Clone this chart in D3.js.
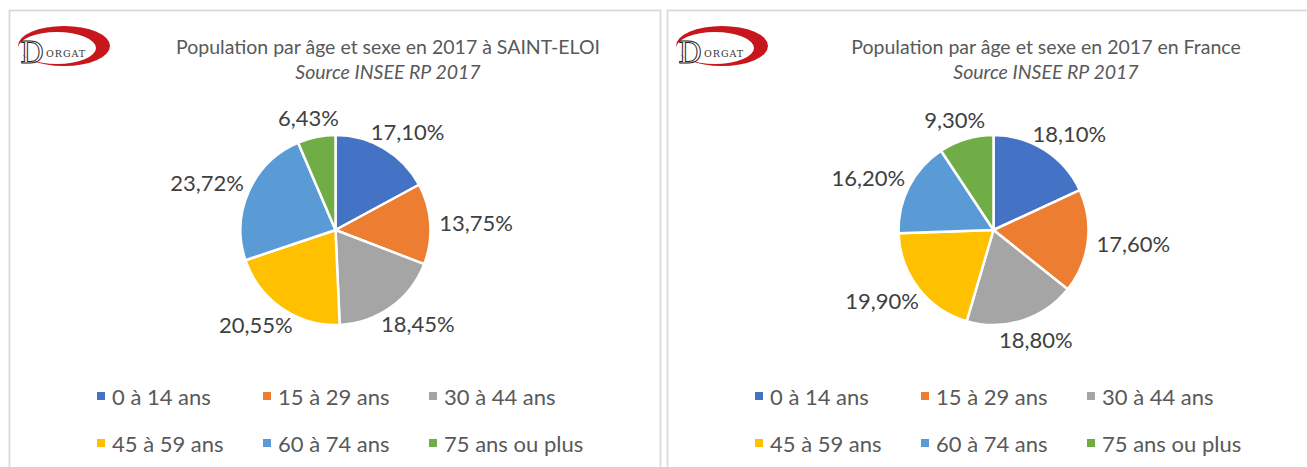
<!DOCTYPE html>
<html>
<head>
<meta charset="utf-8">
<script src="https://cdn.jsdelivr.net/npm/d3@7"></script>
<style>
  body { margin: 0; background: #fff; }
  text { font-family: Lato, "Open Sans", sans-serif; }
</style>
</head>
<body>
<div id="wrapper"></div>
<script>
// Données
const ageGroups = ["0 à 14 ans", "15 à 29 ans", "30 à 44 ans", "45 à 59 ans", "60 à 74 ans", "75 ans ou plus"];
const saintEloi = [17.10, 13.75, 18.45, 20.55, 23.72, 6.43];
const france = [18.10, 17.60, 18.80, 19.90, 16.20, 9.30];
const titles = ["Population par âge et sexe en 2017 à SAINT-ELOI", "Population par âge et sexe en 2017 en France"];
const subtitle = "Source INSEE RP 2017";
const colors = ["#4472C4", "#ED7D31", "#A5A5A5", "#FFC000", "#5B9BD5", "#70AD47"];

const dimensions = {
  width: 1307,
  height: 467,
  panelWidth: 651,
  panelTop: 10,
  radius: 95,
  pieCy: 230
};

const svg = d3.select("#wrapper")
  .append("svg")
    .attr("width", dimensions.width)
    .attr("height", dimensions.height);

const color = d3.scaleOrdinal().domain(ageGroups).range(colors);
const fmt = v => d3.format(".2f")(v).replace(".", ",") + "%";

const drawPanel = (x0, title, values) => {
  const g = svg.append("g").attr("transform", "translate(" + x0 + "," + dimensions.panelTop + ")");

  // cadre
  g.append("rect")
    .attr("x", 0.5).attr("y", 0.5)
    .attr("width", dimensions.panelWidth).attr("height", 500)
    .attr("fill", "#fff")
    .attr("stroke", "#d9d9d9")
    .attr("stroke-width", 1.8);

  // logo
  const logo = g.append("g");
  logo.append("path")
    .attr("d", "M9,36 a46,20 0 1,0 92,0 a46,20 0 1,0 -92,0 Z M9,38 a39,16 0 1,0 78,0 a39,16 0 1,0 -78,0 Z")
    .attr("fill-rule", "evenodd")
    .attr("fill", "#c8161d");
  logo.append("rect").attr("x", 2).attr("y", 37).attr("width", 12).attr("height", 22).attr("fill", "#fff");
  logo.append("text")
    .attr("x", 11).attr("y", 53)
    .style("font-family", "DejaVu Serif")
    .style("font-size", "30px")
    .attr("fill", "none")
    .attr("stroke", "#222")
    .attr("stroke-width", 1)
    .text("D");
  logo.append("text")
    .attr("x", 37).attr("y", 47)
    .style("font-family", "DejaVu Serif")
    .style("font-size", "9.5px")
    .style("letter-spacing", "1px")
    .attr("fill", "#333")
    .text("ORGAT");

  // titres
  g.append("text")
    .attr("x", 379).attr("y", 36)
    .attr("text-anchor", "middle")
    .attr("dominant-baseline", "central")
    .style("font-size", "19.5px")
    .attr("fill", "#595959")
    .text(title);
  g.append("text")
    .attr("x", 379).attr("y", 61)
    .attr("text-anchor", "middle")
    .attr("dominant-baseline", "central")
    .style("font-size", "19.5px")
    .style("font-style", "italic")
    .attr("fill", "#595959")
    .text(subtitle);

  // camembert
  const cx = dimensions.panelWidth / 2 + 1;
  const cy = dimensions.pieCy - dimensions.panelTop;
  const data = ageGroups.map((k, i) => ({ key: k, value: values[i] }));
  const pie = d3.pie().sort(null).value(d => d.value);
  const arc = d3.arc().innerRadius(0).outerRadius(dimensions.radius);
  const arcs = pie(data);

  const pieG = g.append("g").attr("transform", "translate(" + cx + "," + cy + ")");
  pieG.selectAll("path")
    .data(arcs)
    .join("path")
      .attr("d", arc)
      .attr("fill", d => color(d.data.key))
      .attr("stroke", "#fff")
      .attr("stroke-width", 2.5)
      .attr("stroke-linejoin", "round");

  // étiquettes
  const labels = pieG.selectAll("text.lbl")
    .data(arcs)
    .join("text")
      .attr("class", "lbl")
      .attr("text-anchor", "middle")
      .attr("dominant-baseline", "central")
      .style("font-size", "22px")
      .attr("fill", "#404040")
      .text(d => fmt(d.data.value));
  labels.each(function(d) {
    const w = this.getComputedTextLength();
    const h = 22;
    const a = (d.startAngle + d.endAngle) / 2;
    const r = dimensions.radius + 9;
    const x = Math.sin(a) * (r + w / 2);
    const y = -Math.cos(a) * (r + h / 2);
    d3.select(this).attr("x", x).attr("y", y);
  });

  // légende
  const legendX = d3.scaleBand().domain([0, 1, 2]).range([88, 88 + 3 * 166]);
  const legendY = d3.scaleBand().domain([0, 1]).range([396 - dimensions.panelTop - 23.5, 396 - dimensions.panelTop + 70.5]);
  const items = g.selectAll("g.leg")
    .data(ageGroups)
    .join("g")
      .attr("class", "leg")
      .attr("transform", (d, i) => "translate(" + legendX(i % 3) + "," + (legendY(Math.floor(i / 3)) + legendY.bandwidth() / 2) + ")");
  items.append("rect")
    .attr("x", 0).attr("y", -4)
    .attr("width", 8).attr("height", 8)
    .attr("fill", d => color(d));
  items.append("text")
    .attr("x", 15).attr("y", 0)
    .attr("dominant-baseline", "central")
    .style("font-size", "22px")
    .attr("fill", "#595959")
    .text(d => d);
};

drawPanel(9, titles[0], saintEloi);
drawPanel(667, titles[1], france);
</script>
</body>
</html>
